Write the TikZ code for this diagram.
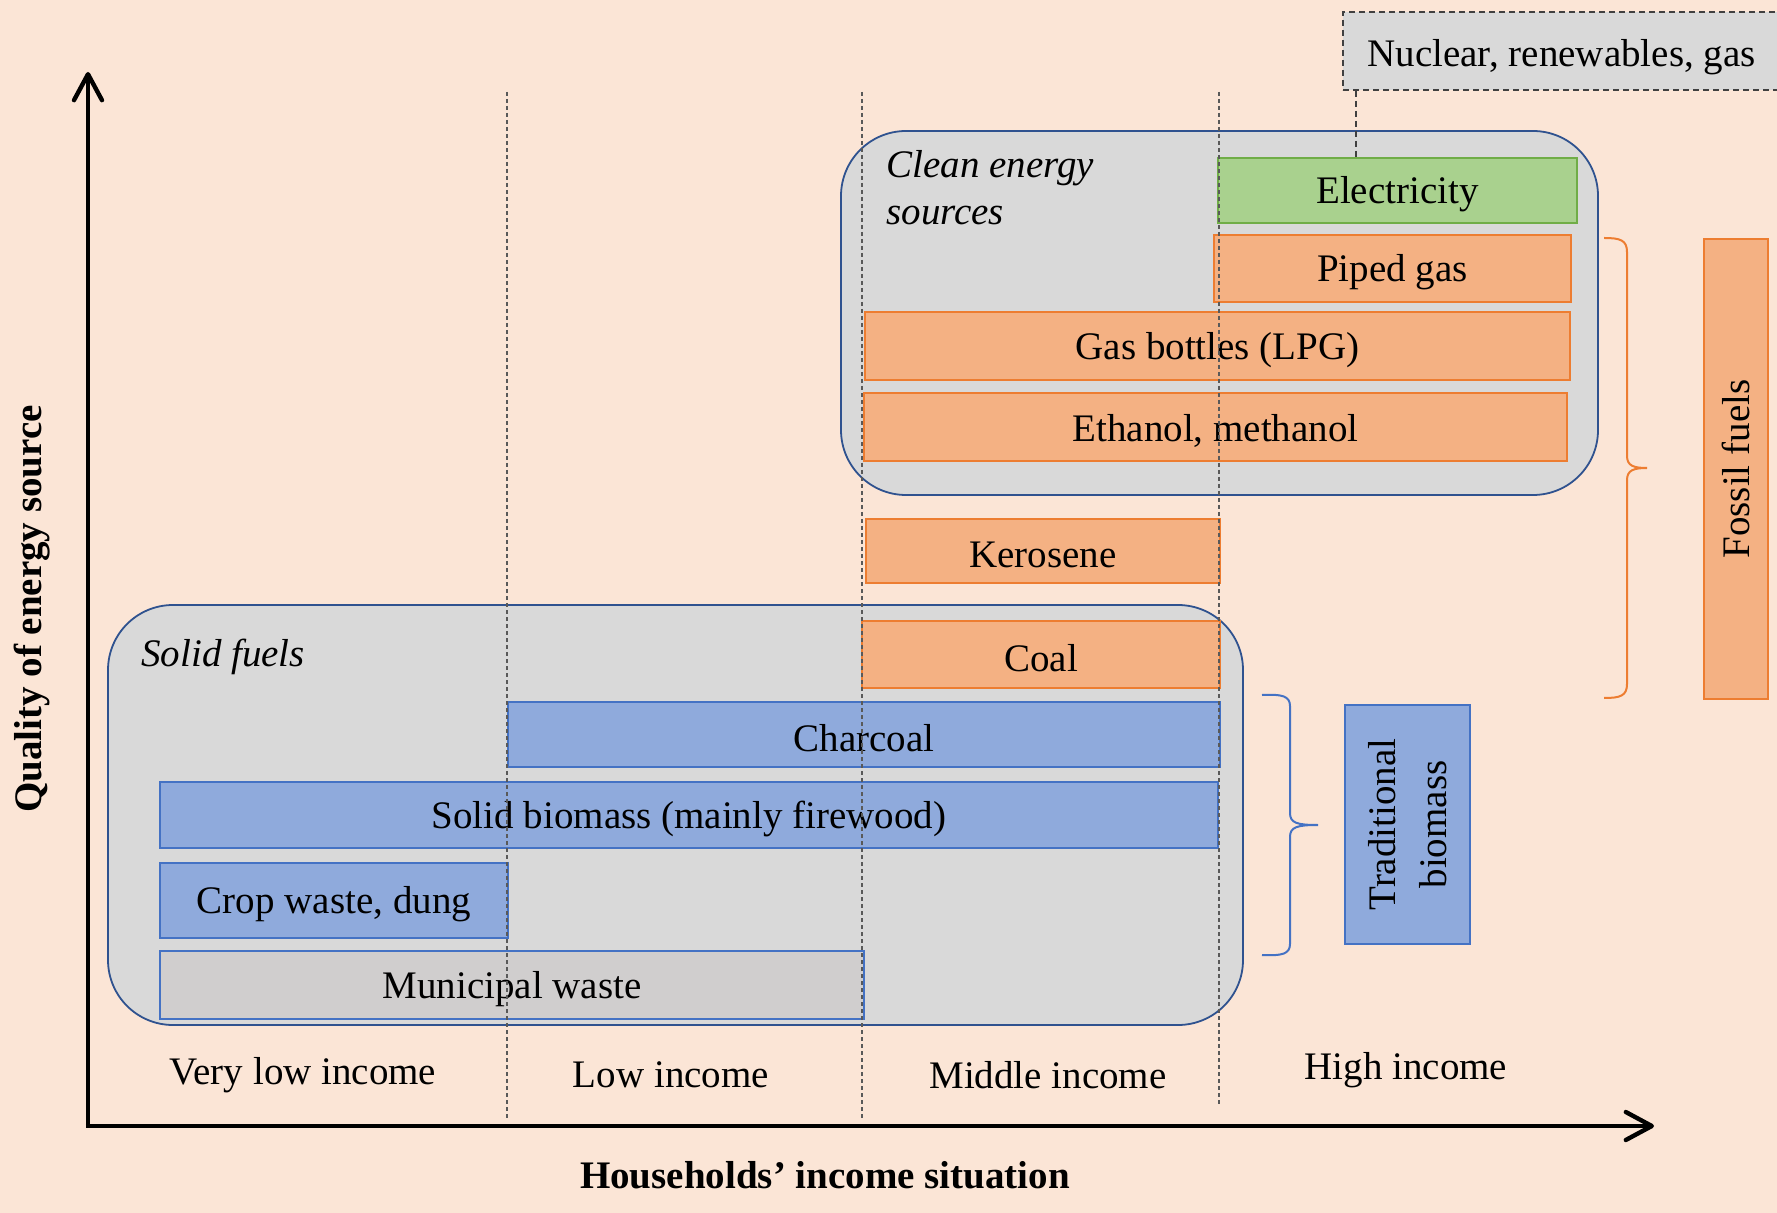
\documentclass[tikz,border=0pt]{standalone}
\usepackage{fontspec}
\setmainfont{Liberation Serif}
\usetikzlibrary{fit,arrows.meta}
\definecolor{bg}{HTML}{FBE5D6}
\definecolor{grpfill}{HTML}{D9D9D9}
\definecolor{grpline}{HTML}{2F528F}
\definecolor{orfill}{HTML}{F4B183}
\definecolor{orline}{HTML}{ED7D31}
\definecolor{blfill}{HTML}{8FAADC}
\definecolor{blline}{HTML}{4472C4}
\definecolor{grfill}{HTML}{A9D18E}
\definecolor{grline}{HTML}{70AD47}
\definecolor{mufill}{HTML}{D0CECE}
\definecolor{dashgrey}{HTML}{595959}
\newcommand\mylbl{\fontsize{19.5pt}{23.5pt}\selectfont}
\begin{document}
\begin{tikzpicture}[x=0.5pt,y=-0.5pt,
  every node/.append style={font=\mylbl, text=black},
  group/.style={draw=grpline, fill=grpfill, line width=0.9pt, rounded corners=32.5pt, inner sep=0pt},
  obox/.style={draw=orline, fill=orfill, line width=0.8pt, inner sep=0pt},
  bbox/.style={draw=blline, fill=blfill, line width=0.8pt, inner sep=0pt},
  gbox/.style={draw=grline, fill=grfill, line width=0.8pt, inner sep=0pt},
  mbox/.style={draw=blline, fill=mufill, line width=0.8pt, inner sep=0pt},
  vdash/.style={draw=dashgrey, line width=0.55pt, dash pattern=on 2pt off 1.5pt},
  nucdash/.style={draw=black!75, line width=0.9pt, dash pattern=on 3pt off 2pt},
  axis/.style={line width=2.2pt, -{Straight Barb[length=13pt,width=14pt,round]}},
  txt/.style={inner sep=0pt},
  blabel/.style={inner sep=0pt, yshift=-2pt}]
\useasboundingbox (0,0) rectangle (1777,1213);
\fill[bg] (0,0) rectangle (1777,1213);

% group boxes
\node[group, fit={(108,605)(1243,1025)}] (solid) {};
\node[group, fit={(841,131)(1598,495)}] (clean) {};
\node[txt, anchor=west] (solidlbl) at (141,657) {\itshape Solid fuels};
\node[txt, anchor=west, align=left] (cleanlbl) at (886,188) {\itshape Clean energy\\\itshape sources};

% nuclear box
\node[fill=grpfill, nucdash, inner sep=0pt, fit={(1343,12)(1800,90)}] (nuc) {};
\node[txt, anchor=west] (nuclbl) at (1367,57) {Nuclear, renewables, gas};

% fuel boxes
\node[gbox, fit={(1218,158)(1577,223)}] (elec) {};
\node[obox, fit={(1214,235)(1571,302)}] (piped) {};
\node[obox, fit={(865,312)(1570,380)}] (lpg) {};
\node[obox, fit={(864,393)(1567,461)}] (eth) {};
\node[obox, fit={(866,519)(1220,583)}] (kero) {};
\node[obox, fit={(862,621)(1220,688)}] (coal) {};
\node[bbox, fit={(508,702)(1220,767)}] (charcoal) {};
\node[bbox, fit={(160,782)(1218,848)}] (biomass) {};
\node[bbox, fit={(160,863)(508,938)}] (crop) {};
\node[mbox, fit={(160,951)(864,1019)}] (muni) {};

\node[blabel] (elecT) at (elec.center) {Electricity};
\node[blabel] (pipedT) at (piped.center) {Piped gas};
\node[blabel] (lpgT) at (lpg.center) {Gas bottles (LPG)};
\node[blabel] (ethT) at (eth.center) {Ethanol, methanol};
\node[blabel] (keroT) at (kero.center) {Kerosene};
\node[blabel] (coalT) at (coal.center) {Coal};
\node[blabel] (charcoalT) at (charcoal.center) {Charcoal};
\node[blabel] (biomassT) at (biomass.center) {Solid biomass (mainly firewood)};
\node[blabel] (cropT) at (crop.center) {Crop waste, dung};
\node[blabel] (muniT) at (muni.center) {Municipal waste};

% connector nuclear -> electricity
\coordinate (nx) at (1356,0);
\draw[nucdash] (nuc.south -| nx) -- (elec.north -| nx);

% side boxes
\node[obox, fit={(1704,239)(1768,699)}] (fossil) {};
\node[txt, rotate=90] (fossillbl) at (fossil.center) {Fossil fuels};
\node[bbox, fit={(1345,705)(1470,944)}] (trad) {};
\node[txt, rotate=90, align=center, font=\fontsize{19.5pt}{25.5pt}\selectfont] (tradlbl) at (trad.center) {Traditional\\biomass};

% brackets
\draw[orline, line width=1pt] (1604,238) .. controls (1620,238) and (1627,240) .. (1627,252) -- (1627,456) .. controls (1627,466) and (1634,468) .. (1647,468) .. controls (1634,468) and (1627,470) .. (1627,480) -- (1627,684) .. controls (1627,696) and (1620,698) .. (1604,698);
\draw[blline, line width=1pt] (1262,695) .. controls (1282,694) and (1290,696) .. (1290,706) -- (1290,813) .. controls (1290,823) and (1297,825) .. (1318,825) .. controls (1297,825) and (1290,827) .. (1290,837) -- (1290,944) .. controls (1290,954) and (1282,956) .. (1262,955);

% dashed income separators
\coordinate (d1t) at (507,92);  \coordinate (d1b) at (507,1119);
\coordinate (d2t) at (862,92);  \coordinate (d2b) at (862,1119);
\coordinate (d3t) at (1219,92); \coordinate (d3b) at (1219,1106);
\draw[vdash] (d1t) -- (d1b);
\draw[vdash] (d2t) -- (d2b);
\draw[vdash] (d3t) -- (d3b);

% income labels
\node[txt] (vlow) at (303,1075) {Very low income};
\node[txt] (low) at (671,1075) {Low income};
\node[txt] (mid) at (1048,1075) {Middle income};
\node[txt] (high) at (1406,1070) {High income};

% axes
\coordinate (origin) at (88,1126);
\coordinate (ytop) at (88,72);
\coordinate (xend) at (1654,1126);
\draw[axis] (origin) -- (ytop);
\draw[axis] ([xshift=-1.1pt]origin) -- (xend);
\node[txt, font=\mylbl\bfseries] (xlabel) at (825,1175) {Households’ income situation};
\node[txt, rotate=90, font=\mylbl\bfseries] (ylabel) at (32,609) {Quality of energy source};
\end{tikzpicture}
\end{document}
